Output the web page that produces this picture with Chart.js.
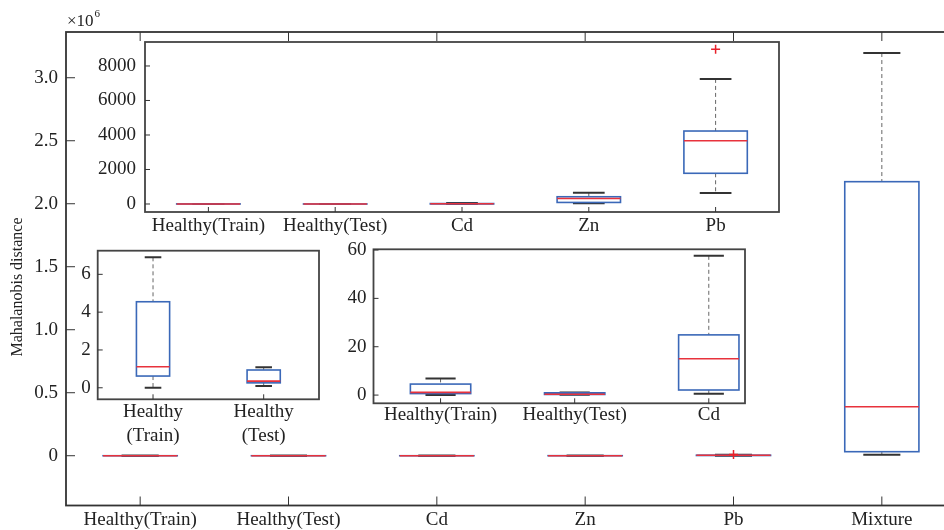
<!DOCTYPE html>
<html>
<head>
<meta charset="utf-8">
<script src="https://cdn.jsdelivr.net/npm/chart.js@4.4.0/dist/chart.umd.min.js"></script>
<style>
  html, body { margin: 0; padding: 0; background: #fff; overflow: hidden; width: 944px; height: 530px; }
  canvas { position: absolute; display: block; }
</style>
</head>
<body>
<canvas id="main" width="962" height="530" style="left:0;top:0"></canvas>
<canvas id="inset1" width="705" height="212" style="left:85px;top:36px"></canvas>
<canvas id="inset2" width="256" height="205" style="left:70px;top:245px"></canvas>
<canvas id="inset3" width="425" height="200" style="left:330px;top:233px"></canvas>
<script>
// Box statistics, Mahalanobis distance (raw values)
const categories = ['Healthy(Train)', 'Healthy(Test)', 'Cd', 'Zn', 'Pb', 'Mixture'];
const lowWhisker  = [0.0, 0.09, 0.6, 40, 640, 8000];
const quartile1   = [0.62, 0.26, 2.1, 90, 1780, 32000];
const medians     = [1.11, 0.35, 15.0, 320, 3670, 389000];
const quartile3   = [4.55, 0.94, 24.9, 420, 4230, 2175000];
const highWhisker = [6.9, 1.08, 57.6, 650, 7250, 3196000];
const outliers    = [{ x: 5, y: 8970 }]; // Pb

// tick labels
const mainTicks   = [0, 500000, 1000000, 1500000, 2000000, 2500000, 3000000];
const inset1Ticks = [0, 2000, 4000, 6000, 8000];
const inset2Ticks = [0, 2, 4, 6];
const inset3Ticks = [0, 20, 40, 60];
const inset2Labels = [['Healthy', '(Train)'], ['Healthy', '(Test)']];

const FONT = 'Liberation Serif';
const TXT = '#222';

function line(ctx, x1, y1, x2, y2) {
  ctx.beginPath(); ctx.moveTo(x1, y1); ctx.lineTo(x2, y2); ctx.stroke();
}

function noPad(s) {
  s.paddingTop = 0; s.paddingBottom = 0; s.paddingLeft = 0; s.paddingRight = 0;
}

// dessine les boites a moustaches avec les echelles du graphe
const boxPlugin = {
  id: 'boxes',
  beforeDraw(chart) {
    const a = chart.chartArea;
    chart.ctx.save();
    chart.ctx.fillStyle = '#fff';
    chart.ctx.fillRect(a.left, a.top, a.width, a.height);
    chart.ctx.restore();
  },
  beforeDatasetsDraw(chart, args, o) {
    const { ctx, chartArea: a, scales: { x, y } } = chart;
    ctx.save();
    ctx.beginPath(); ctx.rect(a.left, a.top, a.width, a.height); ctx.clip();
    const unit = x.getPixelForValue(2) - x.getPixelForValue(1);
    const hw = unit * o.boxFrac / 2;
    for (let i = 0; i < o.n; i++) {
      const cx = x.getPixelForValue(i + 1);
      const pLo = y.getPixelForValue(lowWhisker[i]);
      const pQ1 = y.getPixelForValue(quartile1[i]);
      const pMed = y.getPixelForValue(medians[i]);
      const pQ3 = y.getPixelForValue(quartile3[i]);
      const pHi = y.getPixelForValue(highWhisker[i]);
      ctx.strokeStyle = '#666'; ctx.lineWidth = 1; ctx.setLineDash([4, 3]);
      line(ctx, cx, pHi, cx, pQ3);
      line(ctx, cx, pQ1, cx, pLo);
      ctx.setLineDash([]);
      ctx.strokeStyle = '#333'; ctx.lineWidth = 2;
      line(ctx, cx - hw / 2, pHi, cx + hw / 2, pHi);
      line(ctx, cx - hw / 2, pLo, cx + hw / 2, pLo);
      ctx.strokeStyle = '#3a68b8'; ctx.lineWidth = 1.6;
      ctx.strokeRect(cx - hw, pQ3, 2 * hw, pQ1 - pQ3);
      ctx.strokeStyle = '#e8323c'; ctx.lineWidth = 1.6;
      line(ctx, cx - hw, pMed, cx + hw, pMed);
    }
    ctx.restore();
  },
  afterDraw(chart, args, o) {
    const { ctx, chartArea: a, scales: { x, y } } = chart;
    ctx.save();
    ctx.strokeStyle = o.frame; ctx.lineWidth = 1.8;
    ctx.strokeRect(a.left, a.top, a.width, a.height);
    ctx.strokeStyle = '#333'; ctx.lineWidth = 1;
    y.ticks.forEach(t => {
      const py = y.getPixelForValue(t.value);
      line(ctx, a.left, py, a.left + o.tickLen, py);
    });
    x.ticks.forEach(t => {
      const px = x.getPixelForValue(t.value);
      line(ctx, px, a.bottom, px, a.bottom - o.tickLen);
      if (o.topTicks) line(ctx, px, a.top, px, a.top + o.tickLen);
    });
    if (o.decor) o.decor(ctx, a);
    ctx.restore();
  }
};

function boxChart(id, c) {
  const cv = document.getElementById(id);
  const datasets = c.outliers ? [{
    data: c.outliers,
    pointStyle: 'cross',
    pointRadius: 4.5,
    borderColor: '#e8202a',
    borderWidth: 1.5
  }] : [];
  return new Chart(cv, {
    type: 'scatter',
    data: { datasets: datasets },
    plugins: [boxPlugin],
    options: {
      responsive: false,
      animation: false,
      layout: { padding: { left: 0, top: c.area.t, right: cv.width - c.area.r, bottom: 0 } },
      plugins: {
        legend: { display: false },
        tooltip: { enabled: false },
        boxes: { n: c.n, boxFrac: c.boxFrac, tickLen: c.tickLen, frame: c.frame, topTicks: c.topTicks, decor: c.decor }
      },
      scales: {
        x: {
          type: 'linear',
          min: 0.5, max: c.xMax,
          grid: { display: false, drawTicks: false },
          border: { display: false },
          afterBuildTicks: s => { s.ticks = c.labels.map((l, i) => ({ value: i + 1 })); },
          afterFit: s => { s.height = cv.height - c.area.b; noPad(s); },
          ticks: {
            autoSkip: false, maxRotation: 0, padding: c.xPad,
            color: TXT, font: { family: FONT, size: 19, lineHeight: c.lineHeight || 1.2 },
            callback: v => c.labels[v - 1]
          }
        },
        y: {
          min: c.yMin, max: c.yMax,
          grid: { display: false, drawTicks: false },
          border: { display: false },
          afterBuildTicks: s => { s.ticks = c.yTicks.map(v => ({ value: v })); },
          afterFit: s => { s.width = c.area.l; noPad(s); },
          ticks: {
            padding: c.yPad, color: TXT, font: { family: FONT, size: 19 },
            callback: c.yFmt || (v => v)
          }
        }
      }
    }
  });
}

// graphe principal
boxChart('main', {
  n: 6, labels: categories, xMax: 6.5, boxFrac: 0.5,
  area: { l: 66, t: 32, r: 956, b: 505.5 },
  yMin: -395000, yMax: 3363000, yTicks: mainTicks,
  yFmt: v => v === 0 ? '0' : (v / 1e6).toFixed(1),
  xPad: 3, yPad: 8, tickLen: 9, frame: '#333', topTicks: true,
  outliers: outliers,
  decor: (ctx, a) => {
    ctx.fillStyle = TXT;
    ctx.font = '17px ' + FONT;
    ctx.textAlign = 'left'; ctx.textBaseline = 'alphabetic';
    ctx.fillText('\u00d710', 67, 26);
    const w = ctx.measureText('\u00d710').width;
    ctx.font = '11px ' + FONT;
    ctx.fillText('6', 67 + w + 1, 17);
    ctx.save();
    ctx.translate(18, 287);
    ctx.rotate(-Math.PI / 2);
    ctx.font = '16px ' + FONT;
    ctx.textAlign = 'center'; ctx.textBaseline = 'middle';
    ctx.fillText('Mahalanobis distance', 0, 0);
    ctx.restore();
  }
});

// encart du haut : sans le melange
boxChart('inset1', {
  n: 5, labels: categories.slice(0, 5), xMax: 5.5, boxFrac: 0.5,
  area: { l: 60, t: 6, r: 694, b: 176 },
  yMin: -464, yMax: 9390, yTicks: inset1Ticks,
  xPad: 3, yPad: 9, tickLen: 5, frame: '#444',
  outliers: outliers
});

// encart gauche : sains seulement
boxChart('inset2', {
  n: 2, labels: inset2Labels, xMax: 2.5, boxFrac: 0.3,
  area: { l: 27.7, t: 5.7, r: 249, b: 154.3 },
  yMin: -0.61, yMax: 7.25, yTicks: inset2Ticks,
  xPad: 0, yPad: 7, tickLen: 5, frame: '#444', lineHeight: 1.3
});

// encart central : sains + Cd
boxChart('inset3', {
  n: 3, labels: categories.slice(0, 3), xMax: 3.27, boxFrac: 0.45,
  area: { l: 43.5, t: 16.3, r: 415, b: 170.3 },
  yMin: -3.4, yMax: 60.3, yTicks: inset3Ticks,
  xPad: 0, yPad: 7, tickLen: 5, frame: '#444'
});
</script>
</body>
</html>
